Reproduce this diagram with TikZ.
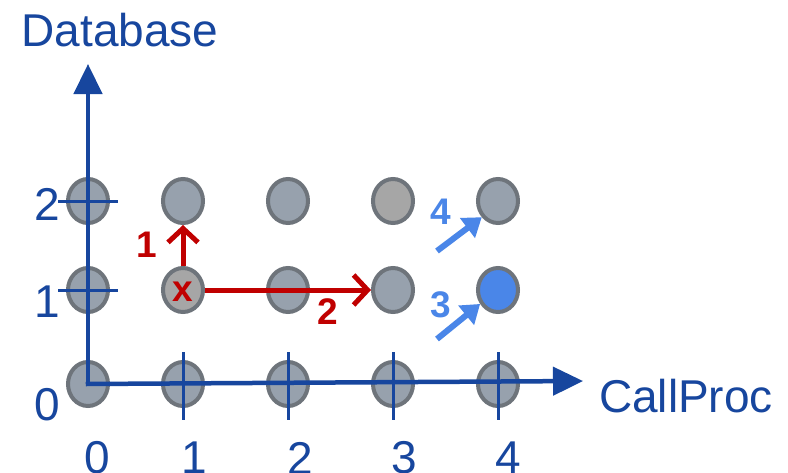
\documentclass[tikz,border=0pt]{standalone}
\usepackage{fontspec}
\setmainfont{Liberation Sans}
\usetikzlibrary{arrows.meta,calc,shapes.geometric}
\definecolor{axisblue}{HTML}{17469E}
\definecolor{ptfill}{HTML}{97A1AD}
\definecolor{ptgray}{HTML}{A6A6A6}
\definecolor{ptedge}{HTML}{6E747B}
\definecolor{redc}{HTML}{C00000}
\definecolor{bluec}{HTML}{4A86E8}
\tikzset{
  pt/.style={ellipse, draw=ptedge, line width=4pt, fill=ptfill, minimum width=40pt, minimum height=44pt, inner sep=0pt},
  axis/.style={draw=axisblue, line width=4.5pt},
  tick/.style={draw=axisblue, line width=3pt},
  lbl/.style={text=axisblue, font=\fontsize{46}{52}\selectfont, inner sep=0pt},
  redarr/.style={draw=redc, line width=5pt, -{Straight Barb[length=14pt,width=30pt,line width=5pt]}},
  bluearr/.style={draw=bluec, line width=6pt, -{Triangle[length=18pt,width=24pt]}},
  rednum/.style={text=redc, font=\bfseries\fontsize{37}{42}\selectfont, inner sep=0pt},
  bluenum/.style={text=bluec, font=\bfseries\fontsize{37}{42}\selectfont, inner sep=0pt},
}
\begin{document}
\begin{tikzpicture}[x=1pt,y=-1pt]
\fill[white] (0,0) rectangle (788,472);
\useasboundingbox (0,0) rectangle (788,472);
% points
\foreach \i/\x in {0/88,1/183,2/288,3/393,4/498}{
  \node[pt] (c\i0) at (\x,384) {};
}
\node[pt] (c01) at (88,290) {};
\node[pt, fill=ptgray] (c11) at (183,290) {};
\node[pt] (c21) at (288,290) {};
\node[pt] (c31) at (393,290) {};
\node[pt, fill=bluec] (c41) at (498,290) {};
\node[pt] (c02) at (88,201) {};
\node[pt] (c12) at (183,201) {};
\node[pt] (c22) at (288,201) {};
\node[pt, fill=ptgray] (c32) at (393,201) {};
\node[pt] (c42) at (498,201) {};
% axes
\coordinate (o) at (88,384);
\coordinate (ytip) at (88,64);
\coordinate (xtip) at (583,381);
\draw[axis, -{Triangle[length=30pt,width=28pt]}] (o) -- (ytip);
\draw[axis, -{Triangle[length=30pt,width=28pt]}] ([xshift=-2.25pt]o) -- (xtip);
% ticks
\foreach \i in {1,2,3,4}{
  \draw[tick] ($(c\i0)+(0,-32)$) -- ($(c\i0)+(0,36)$);
}
\draw[tick] ($(c01)+(-30,0)$) -- ($(c01)+(30,0)$);
\draw[tick] ($(c02)+(-30,0)$) -- ($(c02)+(30,0)$);
% labels
\node[lbl] (ydb) at (120,30) {Database};
\node[lbl] (xcp) at (686,396) {CallProc};
\node[lbl] (y2) at (47,204) {2};
\node[lbl] (y1) at (47,302) {1};
\node[lbl] (y0) at (47,405) {0};
\node[lbl] (x0) at (97,458) {0};
\node[lbl] (x1) at (194,458) {1};
\node[lbl] (x2) at (300,458) {2};
\node[lbl] (x3) at (404,458) {3};
\node[lbl] (x4) at (508,458) {4};
% red moves
\node[rednum] (xmark) at (183,292) {x};
\draw[redarr] (c11.north) -- (c12.south);
\draw[redarr] (c11.east) -- (c31.west);
\node[rednum] (r1) at (147,245) {1};
\node[rednum] (r2) at (328,312) {2};
% blue moves
\coordinate (b4s) at (437,251);
\coordinate (b3s) at (437,339);
\draw[bluearr] (b4s) -- (c42.225);
\draw[bluearr] (b3s) -- (c41.218);
\node[bluenum] (n4) at (441,212) {4};
\node[bluenum] (n3) at (441,305) {3};
\end{tikzpicture}
\end{document}
